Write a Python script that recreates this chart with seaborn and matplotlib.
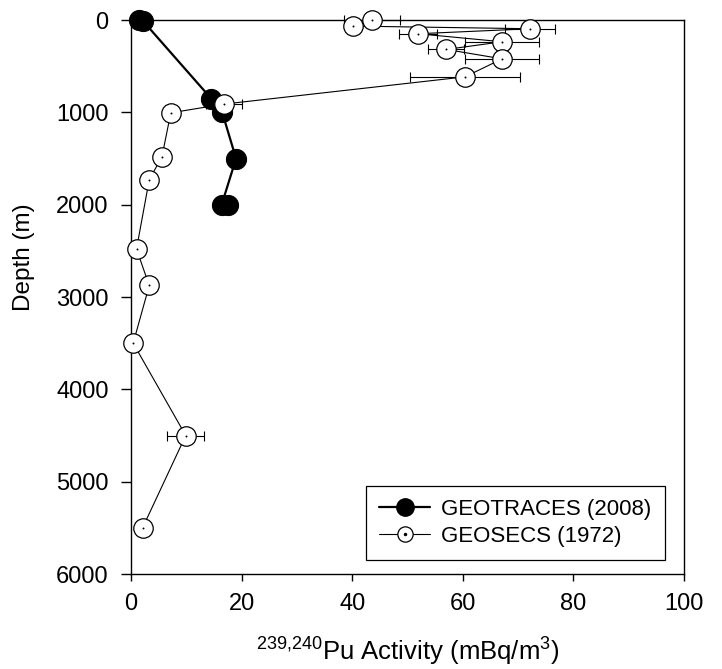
import numpy as np
import pandas as pd
import matplotlib
matplotlib.use("Agg")
import matplotlib.pyplot as plt
import seaborn as sns
from matplotlib.lines import Line2D

# GEOTRACES (2008)
gt_activity = [1.5, 2.1, 14.5, 16.5, 19.0, 16.4, 17.6]
gt_depth = [0, 5, 850, 1000, 1500, 2000, 2000]

# GEOSECS (1972)
gs_activity = [43.6, 40.2, 72.2, 51.9, 67.1, 57.0, 67.1, 60.4, 16.8, 7.2, 5.6, 3.3, 1.0, 3.3, 0.4, 9.9, 2.1]
gs_depth = [0, 65, 94, 148, 235, 318, 420, 615, 910, 1005, 1480, 1730, 2480, 2875, 3500, 4500, 5500]
gs_err = [5.0, 0, 4.5, 3.4, 6.7, 3.3, 6.7, 10.0, 3.2, 0, 0, 0, 0, 0, 0, 3.3, 0]

x_ticks = [0, 20, 40, 60, 80, 100]
y_ticks = [0, 1000, 2000, 3000, 4000, 5000, 6000]

sns.set_style("ticks")
plt.rcParams['font.family'] = ['Liberation Sans', 'DejaVu Sans']
plt.rcParams['mathtext.fontset'] = 'custom'
plt.rcParams['mathtext.rm'] = 'Liberation Sans'
plt.rcParams['mathtext.it'] = 'Liberation Sans:italic'
for k in ['text.color', 'axes.labelcolor', 'xtick.color', 'ytick.color',
          'xtick.labelcolor', 'ytick.labelcolor']:
    plt.rcParams[k] = 'black'

fig = plt.figure(figsize=(7.22, 6.69), dpi=100)
ax = fig.add_axes([0.1814, 0.142, 0.7660, 0.828])

gt = pd.DataFrame({"activity": gt_activity, "depth": gt_depth})
gs = pd.DataFrame({"activity": gs_activity, "depth": gs_depth, "err": gs_err})

sns.lineplot(data=gt, x="activity", y="depth", sort=False, ax=ax, color="black",
             linewidth=1.6, marker="o", markersize=14.5, markerfacecolor="black",
             markeredgecolor="black", estimator=None, zorder=3)
for ln in ax.lines:
    ln.set_clip_on(False)

# error bars for GEOSECS
ax.errorbar(gs["activity"], gs["depth"], xerr=gs["err"], fmt="none", ecolor="black",
            elinewidth=0.8, capsize=3.6, capthick=0.8, zorder=4, clip_on=False)

n0 = len(ax.lines)
sns.lineplot(data=gs, x="activity", y="depth", sort=False, ax=ax, color="black",
             linewidth=0.8, marker="o", markersize=14, markerfacecolor="white",
             markeredgecolor="black", markeredgewidth=0.9, estimator=None, zorder=5)
sns.scatterplot(data=gs, x="activity", y="depth", ax=ax, color="black", s=2,
                linewidth=0, zorder=6, clip_on=False)
for ln in ax.lines[n0:]:
    ln.set_clip_on(False)

ax.set_xlim(0, 100)
ax.set_ylim(6000, 0)
ax.set_xticks(x_ticks)
ax.set_yticks(y_ticks)
ax.tick_params(axis="both", direction="out", width=1, labelsize=17,
               top=False, right=False, colors="black")
ax.tick_params(axis="y", length=7, pad=9)
ax.tick_params(axis="x", length=5, pad=9)
for s in ax.spines.values():
    s.set_linewidth(1.0)
    s.set_color("black")
    s.set_visible(True)

ax.set_xlabel(r"$^{239{,}240}$Pu Activity (mBq/m$^3$)", fontsize=18.5, labelpad=15)
ax.set_ylabel("Depth (m)", fontsize=17.5)
ax.yaxis.set_label_coords(-0.1736, 0.572)

h1 = Line2D([], [], color="black", linewidth=1.6, marker="o", markersize=12.5,
            markerfacecolor="black", markeredgecolor="black")
h2a = Line2D([], [], color="black", linewidth=0.8, marker="o", markersize=11,
             markerfacecolor="white", markeredgecolor="black", markeredgewidth=0.9)
h2b = Line2D([], [], linestyle="none", marker="o", markersize=1.5, color="black")
leg = ax.legend([h1, (h2a, h2b)], ["GEOTRACES (2008)", "GEOSECS (1972)"],
                loc="lower right", bbox_to_anchor=(0.9656, 0.0253), borderaxespad=0,
                fontsize=16, frameon=True, fancybox=False, framealpha=1,
                edgecolor="black", handlelength=2.3, labelspacing=0.25,
                borderpad=0.6, handletextpad=0.5)
leg.get_frame().set_linewidth(0.9)

fig.savefig("out.png", dpi=100)
